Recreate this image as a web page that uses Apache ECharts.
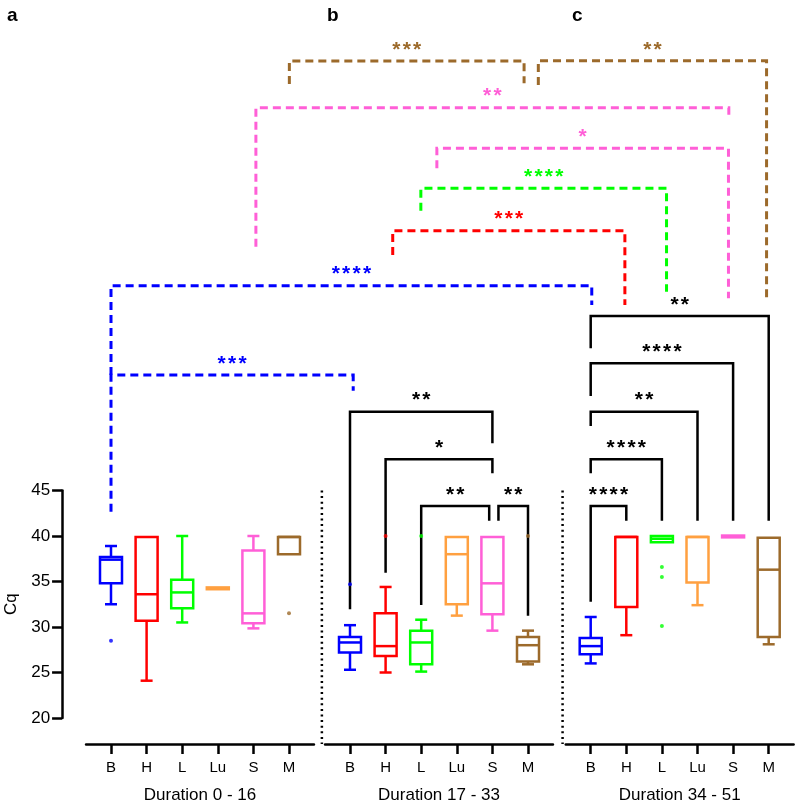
<!DOCTYPE html>
<html style="height: 100%">
<head>
    <meta charset="utf-8">
    <title>Cq by duration</title>
    <script src="https://cdn.jsdelivr.net/npm/echarts@6/dist/echarts.min.js"></script>
</head>
<body style="height: 100%; margin: 0">
    <div id="main" style="width: 797px; height: 800px"></div>
    <script type="text/javascript">
        // groups and colours
        var cats = ['B', 'H', 'L', 'Lu', 'S', 'M'];
        var colors = ['#0000ff', '#ff0000', '#00ff00', '#ffa040', '#ff5fd7', '#9c6a2b'];
        var panelNames = ['Duration 0 - 16', 'Duration 17 - 33', 'Duration 34 - 51'];
        var panelLetters = ['a', 'b', 'c'];

        // box data per panel: [min, q1, median, q3, max], one row per group
        var boxA = [
            [32.5, 34.8, 37.4, 37.7, 38.9],
            [24.1, 30.7, 33.6, 39.9, 39.9],
            [30.5, 32.05, 33.8, 35.2, 40],
            [34.15, 34.15, 34.25, 34.35, 34.35],
            [29.85, 30.4, 31.5, 38.4, 40],
            [38, 38, 39.9, 39.9, 39.9]
        ];
        var boxB = [
            [25.3, 27.2, 28.3, 28.9, 30.2],
            [25.0, 26.8, 27.9, 31.5, 34.4],
            [25.1, 25.9, 28.3, 29.6, 30.8],
            [31.25, 32.5, 38.0, 39.9, 39.9],
            [29.6, 31.4, 34.8, 39.9, 39.9],
            [25.9, 26.2, 28.0, 28.9, 29.6]
        ];
        var boxC = [
            [26.0, 27.0, 27.9, 28.8, 31.1],
            [29.1, 32.2, 39.9, 39.9, 39.9],
            [39.3, 39.3, 39.7, 40, 40],
            [32.4, 34.9, 39.9, 39.9, 39.9],
            [39.85, 39.85, 39.95, 40.05, 40.05],
            [28.1, 28.9, 36.3, 39.8, 39.8]
        ];
        // outliers: [group index, value]
        var outA = [[0, 28.5], [5, 31.5]];
        var outB = [[0, 34.7], [1, 40], [2, 40], [5, 40]];
        var outC = [[2, 36.6], [2, 35.5], [2, 30.1]];

        // black brackets within a panel: [panel, from, to, level, fromBottom, toBottom, label]
        var innerBrackets = [
            [1, 0, 4, 53.66, 31.95, 50.19, '**'],
            [1, 1, 4, 48.43, 35.97, 46.89, '*'],
            [1, 2, 3.91, 43.3, 32.42, 41.68, '**'],
            [1, 4.17, 5, 43.3, 41.68, 31.24, '**'],
            [2, 0, 5, 64.18, 60.63, 41.68, '**'],
            [2, 0, 4, 58.98, 55.38, 41.68, '****'],
            [2, 0, 3, 53.66, 52.09, 41.68, '**'],
            [2, 0, 2, 48.43, 46.89, 41.68, '****'],
            [2, 0, 1, 43.3, 32.78, 41.68, '****']
        ];
        // dashed brackets between panels:
        // [fromPanel, fromPos, fromBottom, toPanel, toPos, toBottom, level, label, colour]
        var crossBrackets = [
            [0, 0, 42.67, 1, 0.09, 55.97, 57.69, '***', 0],
            [0, 0, 57.69, 2, 0.03, 65.38, 67.51, '****', 0],
            [1, 1.2, 70.88, 2, 0.96, 65.38, 73.55, '***', 1],
            [1, 1.99, 75.75, 2, 2.13, 66.85, 78.21, '****', 2],
            [1, 2.44, 80.41, 2, 3.87, 66.12, 82.6, '*', 4],
            [0, 4.07, 71.79, 2, 3.88, 85.9, 87.07, '**', 4],
            [0, 5.01, 89.67, 1, 4.89, 89.75, 92.2, '***', 5],
            [1, 5.29, 89.56, 2, 4.94, 65.93, 92.23, '**', 5]
        ];

        var FONT = 'Liberation Sans, Arial, sans-serif';
        var step = 35.6;               // px per group
        var firstX = [111, 350, 590.7]; // centre of B in each panel
        var letterLeft = [2, 322, 567];
        var xOffset = 26;              // x axis drawn below the value 20

        function boxRows(rows) {
            return rows.map(function (r, i) { return [i].concat(r).concat([i]); });
        }

        function renderBox(params, api) {
            var pos = api.value(0);
            var col = colors[api.value(6)];
            var lo = api.coord([pos, api.value(1)]);
            var q1 = api.coord([pos, api.value(2)]);
            var md = api.coord([pos, api.value(3)]);
            var q3 = api.coord([pos, api.value(4)]);
            var hi = api.coord([pos, api.value(5)]);
            var x = lo[0], hw = 11, cw = 6;
            var st = { stroke: col, lineWidth: 2.5, fill: 'none' };
            var kids = [
                { type: 'rect', shape: { x: x - hw, y: q3[1], width: 2 * hw, height: q1[1] - q3[1] }, style: st },
                { type: 'line', shape: { x1: x - hw, y1: md[1], x2: x + hw, y2: md[1] }, style: st }
            ];
            if (q3[1] - hi[1] > 1) {
                kids.push({ type: 'line', shape: { x1: x, y1: q3[1], x2: x, y2: hi[1] }, style: st });
                kids.push({ type: 'line', shape: { x1: x - cw, y1: hi[1], x2: x + cw, y2: hi[1] }, style: st });
            }
            if (lo[1] - q1[1] > 1) {
                kids.push({ type: 'line', shape: { x1: x, y1: q1[1], x2: x, y2: lo[1] }, style: st });
                kids.push({ type: 'line', shape: { x1: x - cw, y1: lo[1], x2: x + cw, y2: lo[1] }, style: st });
            }
            return { type: 'group', children: kids };
        }

        var myChart = echarts.init(document.getElementById('main'));

        var grids = [], xAxes = [], yAxes = [], series = [], titles = [];
        var boxes = [boxA, boxB, boxC];
        var outs = [outA, outB, outC];
        for (var p = 0; p < 3; p++) {
            grids.push({
                left: firstX[p] - 0.7 * step, width: 6.4 * step, top: 490.5, height: 227.5,
                outerBoundsMode: 'none', containLabel: false
            });
            xAxes.push({
                gridIndex: p, type: 'value', min: -0.7, max: 5.7, offset: xOffset,
                name: panelNames[p], nameLocation: 'middle', nameGap: 43,
                nameTextStyle: { fontSize: 17, color: '#000', fontFamily: FONT },
                axisLine: { show: true, onZero: false, lineStyle: { color: '#000', width: 2.5 } },
                axisTick: { show: true, length: 10, customValues: [0, 1, 2, 3, 4, 5], lineStyle: { color: '#000', width: 2.5 } },
                axisLabel: {
                    customValues: [0, 1, 2, 3, 4, 5], margin: 16, fontSize: 15, color: '#000', fontFamily: FONT,
                    formatter: function (v) { return cats[Math.round(v)]; }
                },
                splitLine: { show: false }
            });
            yAxes.push({
                gridIndex: p, type: 'value', min: 20, max: 45, interval: 5, show: p === 0,
                offset: 24, name: 'Cq', nameLocation: 'middle', nameGap: 42,
                nameTextStyle: { fontSize: 17, color: '#000', fontFamily: FONT },
                axisLine: { show: true, onZero: false, lineStyle: { color: '#000', width: 2.5 } },
                axisTick: { show: true, length: 10, lineStyle: { color: '#000', width: 2.5 } },
                axisLabel: { fontSize: 17, color: '#000', margin: 12, fontFamily: FONT },
                splitLine: { show: false }
            });
            series.push({
                type: 'custom', xAxisIndex: p, yAxisIndex: p, clip: false,
                renderItem: renderBox, data: boxRows(boxes[p])
            });
            series.push({
                type: 'scatter', xAxisIndex: p, yAxisIndex: p, symbolSize: 4,
                data: outs[p],
                itemStyle: { color: function (prm) { return colors[prm.value[0]]; } }
            });
            titles.push({
                text: panelLetters[p], left: letterLeft[p], top: 1,
                textStyle: { fontSize: 19, fontWeight: 'bold', color: '#000', fontFamily: FONT }
            });
        }

        myChart.setOption({
            animation: false,
            title: titles,
            grid: grids,
            xAxis: xAxes,
            yAxis: yAxes,
            series: series
        });

        // brackets, separators: positioned through the panel axes
        function px(panel, pos, val) {
            return myChart.convertToPixel({ gridIndex: panel }, [pos, val]);
        }
        var gfx = [];
        function stars(label, cx, cy, col) {
            var n = label.length, pitch = 10.4;
            for (var k = 0; k < n; k++) {
                gfx.push({
                    type: 'text', silent: true,
                    style: {
                        text: '*', x: cx + (k - (n - 1) / 2) * pitch, y: cy + 4,
                        fill: col, font: 'bold 21px ' + FONT, textAlign: 'center', textVerticalAlign: 'middle'
                    }
                });
            }
        }
        function bracket(a, b, level, col, dashed) {
            var pts = [[a[0], a[1]], [a[0], level], [b[0], level], [b[0], b[1]]];
            gfx.push({
                type: 'polyline', silent: true,
                shape: { points: pts },
                style: {
                    stroke: col, lineWidth: dashed ? 3 : 2.5, fill: 'none',
                    lineDash: dashed ? [8, 5] : null
                }
            });
        }
        innerBrackets.forEach(function (r) {
            var a = px(r[0], r[1], r[4]), b = px(r[0], r[2], r[5]);
            var lv = px(r[0], r[1], r[3])[1];
            bracket(a, b, lv, '#000', false);
            stars(r[6], (a[0] + b[0]) / 2, lv - 15, '#000');
        });
        crossBrackets.forEach(function (r) {
            var a = px(r[0], r[1], r[2]), b = px(r[3], r[4], r[5]);
            var lv = px(r[0], r[1], r[6])[1];
            var col = colors[r[8]];
            bracket(a, b, lv, col, true);
            stars(r[7], (a[0] + b[0]) / 2, lv - 15, col);
        });
        // dotted separators in front of panels b and c
        [1, 2].forEach(function (p) {
            var top = px(p, -0.79, 45), bot = px(p, -0.79, 20);
            gfx.push({
                type: 'line', silent: true,
                shape: { x1: top[0], y1: top[1], x2: bot[0], y2: bot[1] + xOffset },
                style: { stroke: '#000', lineWidth: 2.5, lineDash: [2, 3.6] }
            });
        });
        myChart.setOption({ graphic: gfx });
    </script>
</body>
</html>
